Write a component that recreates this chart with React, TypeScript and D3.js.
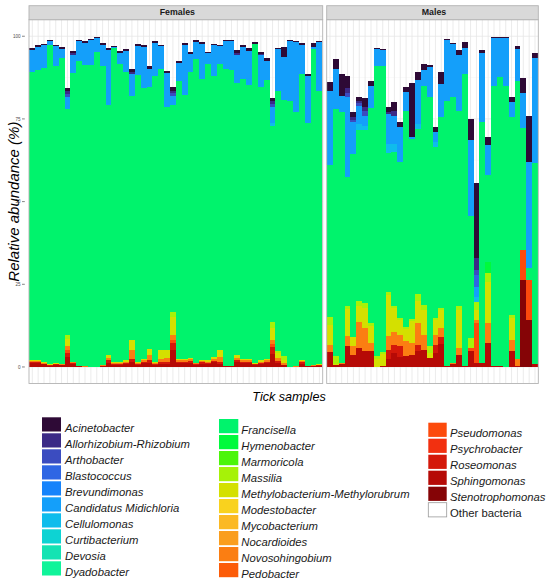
import React from "react";
import * as d3 from "d3";

const W = 550;
const H = 586;

// Legend order (top of stack first)
const taxa = [
  "Acinetobacter", "Allorhizobium-Rhizobium", "Arthobacter", "Blastococcus", "Brevundimonas",
  "Candidatus Midichloria", "Cellulomonas", "Curtibacterium", "Devosia", "Dyadobacter",
  "Francisella", "Hymenobacter", "Marmoricola", "Massilia", "Methylobacterium-Methylorubrum",
  "Modestobacter", "Mycobacterium", "Nocardioides", "Novosohingobium", "Pedobacter",
  "Pseudomonas", "Psychrobacter", "Roseomonas", "Sphingomonas", "Stenotrophomonas",
];
const taxaColors = [
  "#2e0a36", "#3b2a86", "#3b4cc0", "#2f66e4", "#1683fb",
  "#149ffa", "#0fbcec", "#0dd3d3", "#14e3b3", "#10f49a",
  "#00f36c", "#00fa3c", "#4cf50a", "#a6f208", "#d4e000",
  "#f9d21e", "#fbb923", "#fa9e1e", "#fb7e12", "#fc5c08",
  "#fc4a0c", "#f23010", "#d4180a", "#b60a06", "#850406",
];
const otherLabel = "Other bacteria";

// ---- Females (50 samples) ----
const fSphingomonas = [1.1,1.1,0.8,0.4,0.6,0.5,3.0,0.8,0.2,0.1, 0,0,0.3,1.2,0.6,0.7,0.8,1.4,0.7,1.2, 1.2,0.7,1.0,1.0,5.0,1.2,1.2,1.3,0.6,1.0, 0.9,1.4,1.0,0.2,0.2,1.6,1.2,1.2,0.6,0.9, 1.2,3.8,1.2,0.6,0,0.1,1.0,0.2,0.3,0.4];
const fRoseomonas = [0.4,0.4,0.2,0.1,0.2,0.1,1.2,0.3,0,0, 0,0,0,0.8,0.2,0.2,0.3,1.0,0.2,0.4, 1.0,0.2,0.5,0.5,2.2,0.4,0.4,0.4,0.2,0.4, 0.3,0.4,0.5,0,0,0.5,0.4,0.4,0.2,0.3, 0.4,2.2,0.5,0,0,0,0.4,0,0.1,0.1];
const fPseudomonas = [0,0,0,0,0,0,1.0,0,0,0, 0,0,0,0,0,0,0,0,0,0, 0,0,0,0,1.0,0,0,0,0,0, 0,0,0,0,0,0,0,0,0,0, 0,1.0,0,0,0,0,0,0,0,0];
const fNovosphingobium = [0.4,0.4,0.3,0.2,0.2,0.2,1.0,0.3,0.1,0.1, 0,0,0.2,0.7,0.3,0.3,0.4,2.8,0.3,0.5, 1.5,0.3,1.0,1.2,1.5,0.5,0.5,0.6,0.3,0.4, 0.4,0.6,1.5,0.2,0.2,0.7,0.5,0.5,0.2,0.4, 0.5,1.2,1.0,0.6,0,0.1,0.4,0.1,0.1,0.2];
const fMethylobacterium = [0.3,0.3,0.2,0.1,0.2,0.2,2.2,0.2,0,0, 0,0,0,1.0,0.5,0.4,0.5,3.0,0.3,0.4, 1.7,0.3,2.5,2.5,5.5,0.4,0.4,0.5,0.2,0.4, 0.4,0.6,2.0,0,0,0.7,0.4,0.4,0.2,0.4, 0.4,3.5,1.4,1.0,0,0,0.4,0,0.1,0.1];
const fMassilia = [0,0,0,0,0,0,1.3,0,0,0, 0,0,0,0,0,0,0,0,0,0, 0,0,0,0,1.5,0,0,0,0,0, 0,0,0,0,0,0,0,0,0,0, 0,2.0,0.6,1.0,0,0,0,0,0,0];
const fFrancisella = [87.1,87.5,89.0,96.7,89.8,92.3,68.3,87.4,92.2,91.0, 91.3,95.3,90.5,75.6,94.7,89.9,87.3,73.8,86.8,81.8, 79.3,86.5,85.0,73.5,62.6,84.0,79.8,86.5,91.7,85.0, 89.5,85.0,86.5,89.6,89.3,82.5,84.7,82.8,96.5,82.5, 84.2,59.3,78.6,77.5,80.5,76.8,86.5,73.4,95.4,82.7];
const fCellulomonas = [0,0,0,0,0,0,0,0,0,0, 0,0,0,0,0,0,0,0,0,0, 0,0,0,0,0,0,0,0,0,0, 0,0,0,0,0,0,0,0,0,0, 0,0.8,0,0,0,0,0,0,0,0];
const fMidichloria = [6.4,7.0,6.7,1.0,6.0,2.9,3.5,5.4,6.0,6.7, 7.6,4.1,6.4,16.4,0.3,3.5,6.2,6.7,8.8,12.3, 5.5,9.9,7.1,10.3,2.6,5.5,15.2,5.4,5.3,10.4, 3.4,9.4,5.6,8.7,9.0,8.4,9.5,10.2,0.1,9.7, 5.8,4.9,12.8,13.0,18.1,21.3,8.7,14.4,0.8,14.7];
const fArthobacter = [0,0,0,0,0,0,1.0,0,0,0, 0,0,0,0,0,0,0,0,0,0, 0,0,0,0,0.8,0,0,0,0,0, 0,0,0,0,0,0,0,0,0,0, 0,0.8,0,0,0,0,0,0,0,0];
const fAllorhizobium = [0,0,0,0,0,0,0.8,0.5,0,0, 0,0,0,0,0,0,0,0.5,0,0, 0,0,0,0,0.8,0,0,0,0,0, 0,0,0,0,0,0.5,0,0,0,0.4, 0,0.8,0,0,0,0,0,0,0,0];
const fAcinetobacter = [0.8,0.6,0.6,0.5,0.5,0.5,1.0,0.6,0.5,0.6, 0.4,0.3,0.6,0.6,0.4,0.5,0.5,0.8,0.6,0.7, 0.8,0.6,0.4,0.5,1.2,0.5,0.5,0.5,0.5,0.6, 0.4,0.4,0.4,0.3,0.3,0.8,0.5,0.8,0.5,0.7, 1.0,1.0,0.4,3.0,0.4,0.4,0.6,0.6,1.2,0.5];

// ---- Males (36 samples) ----
const mStenotrophomonas = [0,0,0,0,0,0,0,0,0,0, 0,0,0,0,0,0,0,0,0,0, 0,0,0,0,0,0,0,0,0,0, 0,0,0,26.3,14.2,0];
const mSphingomonas = [4.4,0.5,1.0,6.2,3.7,5.7,4.7,4.7,0,0.3, 2.5,4.2,3.0,3.2,3.7,4.7,5.2,2.7,4.2,7.0, 0.4,0.8,3.7,0.4,4.7,1.2,1.2,7.2,0.2,0.3, 0,4.7,0.4,0,0,1.0];
const mRoseomonas = [0,0,0,0,0,0,0,0,0,0, 2.5,2.5,3.2,0,0,2.0,0,0,2.5,2.2, 0,0,0,0,0,0,0,0,0,0, 0,0,0,0,0,0];
const mPseudomonas = [0,0,0,0,0,0,0,0,0,0, 0,0,0,0,0,0,0,0,0,0, 0,0,0,0,1.0,12.0,0,0,0,0, 0,0,0,9.0,12.1,0];
const mNovosphingobium = [2.3,0,0.2,3.2,2.5,8.0,7.0,2.5,0,0, 4.5,4.0,3.5,4.5,3.5,6.5,4.5,0,3.0,2.5, 0,0.4,2.0,0,0,1.0,0,6.0,0,0, 0,3.5,2.0,0,0,0];
const mMethylobacterium = [6.0,0.5,0,8.0,3.0,4.6,6.0,5.2,2.5,3.5, 12.3,7.1,4.5,3.8,6.7,6.8,7.6,1.5,4.5,5.6, 0,0,11.5,0,0,3.0,0,12.6,0,0, 0,6.5,0,0,0,0];
const mMassilia = [2.3,2.2,0,1.1,0,1.7,1.6,1.0,0.7,0.6, 1.0,0.7,0.5,0.5,0.5,2.0,1.5,2.2,0.5,0.5, 0,0,1.1,0,3.0,2.5,0,2.5,0,0, 0,1.0,0,0,0,0];
const mHymenobacter = [0,0,0,0,0,0,0,0,0,0, 0,0,0,0,0,0,0,0,0,0, 0,0,0,0,0,0,0,3.5,0,0, 0,0,0,0,0,0];
const mFrancisella = [46.0,74.8,75.8,38.8,55.3,51.5,52.2,64.9,87.8,86.6, 41.9,46.5,47.3,65.5,54.6,50.0,66.2,75.1,51.8,57.7, 80.1,80.3,59.2,88.1,36.9,0,72.8,26.2,84.8,87.4, 85.0,59.8,84.1,36.9,3.5,60.7];
const mCellulomonas = [0,0,0,0,0,2.0,1.5,0,0,0, 2.8,2.5,0,0,0,1.5,0,0,1.5,0, 0,0,0,0,0,1.6,0,0,0,0, 0,0,0,0,0,0];
const mMidichloria = [22.5,12.0,5.0,24.2,9.5,5.4,3.0,6.7,5.2,4.7, 9.0,8.5,10.5,5.5,0.5,13.2,4.7,9.2,3.0,10.0, 18.5,16.2,16.8,8.0,22.9,3.0,21.0,9.0,14.5,11.8, 14.5,4.5,9.5,10.5,32.2,31.8];
const mBlastococcus = [0,0,0,0,0,0,0,0,0,0, 0,0,0,0,0,0,0,0,0,0, 0,0,0,0,0,3.5,0,0,0,0, 0,0,0,0,0,0];
const mArthobacter = [0,0,0,1.4,0.7,0.8,1.5,0,0,0, 0,0,0,0,0,0,0,0,0,0, 0,0,0,0,0,1.5,0,0,0,0, 0,0,0,0,0,0];
const mAllorhizobium = [0,0,0,1.4,0.8,0.8,1.0,0,0,0, 0.5,1.5,0,0,0,0,0,0,0,0, 0,0,0,0,0,3.5,0,0,0,0, 0,0,0,0,0,0];
const mAcinetobacter = [2.8,3.0,6.7,3.7,1.5,1.2,2.7,1.5,0.3,0.5, 1.5,2.5,1.5,1.7,16.5,2.6,1.8,0.6,1.5,3.8, 0.3,0.3,1.4,1.7,6.5,22.9,0.7,2.5,0.2,0.2, 0.2,1.5,1.0,4.8,14.0,1.5];

const yTicks = [0, 25, 50, 75, 100];
const panelNames = ["Females", "Males"];

type Row = { [k: string]: number | string };

function buildRows(prefix: string, n: number, series: [string, number[]][]): Row[] {
  const rows: Row[] = [];
  for (let i = 0; i < n; i++) {
    const r: Row = { id: `${prefix}${i + 1}` };
    taxa.forEach((t) => (r[t] = 0));
    series.forEach(([t, arr]) => (r[t] = arr[i]));
    rows.push(r);
  }
  return rows;
}

const femaleRows = buildRows("F", fFrancisella.length, [
  ["Sphingomonas", fSphingomonas], ["Roseomonas", fRoseomonas], ["Pseudomonas", fPseudomonas],
  ["Novosohingobium", fNovosphingobium], ["Methylobacterium-Methylorubrum", fMethylobacterium],
  ["Massilia", fMassilia], ["Francisella", fFrancisella], ["Cellulomonas", fCellulomonas],
  ["Candidatus Midichloria", fMidichloria], ["Arthobacter", fArthobacter],
  ["Allorhizobium-Rhizobium", fAllorhizobium], ["Acinetobacter", fAcinetobacter],
]);
const maleRows = buildRows("M", mFrancisella.length, [
  ["Stenotrophomonas", mStenotrophomonas], ["Sphingomonas", mSphingomonas], ["Roseomonas", mRoseomonas],
  ["Pseudomonas", mPseudomonas], ["Novosohingobium", mNovosphingobium],
  ["Methylobacterium-Methylorubrum", mMethylobacterium], ["Massilia", mMassilia],
  ["Hymenobacter", mHymenobacter], ["Francisella", mFrancisella], ["Cellulomonas", mCellulomonas],
  ["Candidatus Midichloria", mMidichloria], ["Blastococcus", mBlastococcus],
  ["Arthobacter", mArthobacter], ["Allorhizobium-Rhizobium", mAllorhizobium],
  ["Acinetobacter", mAcinetobacter],
]);

const stackKeys = taxa.slice().reverse(); // bottom first
const colorOf = d3.scaleOrdinal<string, string>().domain(taxa).range(taxaColors);

const FONT = "'Liberation Sans', Arial, Helvetica, sans-serif";
const panelTop = 19.7;
const panelBottom = 383.5;
const stripTop = 5.7;
const y = d3.scaleLinear().domain([-5, 105]).range([panelBottom, panelTop]);

const panels = [
  { name: panelNames[0], rows: femaleRows, x0: 29, x1: 322.7 },
  { name: panelNames[1], rows: maleRows, x0: 326.7, x1: 538.3 },
];

function Panel({ name, rows, x0, x1 }: { name: string; rows: Row[]; x0: number; x1: number }) {
  const x = d3
    .scaleBand<string>()
    .domain(rows.map((r) => r.id as string))
    .range([x0, x1])
    .paddingInner(0)
    .paddingOuter(0.06);
  const series = d3.stack<Row>().keys(stackKeys).value((d, k) => d[k] as number)(rows);
  const minor = [12.5, 37.5, 62.5, 87.5];
  return (
    <g>
      <rect x={x0} y={panelTop} width={x1 - x0} height={panelBottom - panelTop} fill="#ffffff" />
      {minor.map((v) => (
        <line key={"mi" + v} x1={x0} x2={x1} y1={y(v)} y2={y(v)} stroke="#f0f0f0" strokeWidth={0.4} />
      ))}
      {yTicks.map((v) => (
        <line key={"ma" + v} x1={x0} x2={x1} y1={y(v)} y2={y(v)} stroke="#e6e6e6" strokeWidth={0.8} />
      ))}
      {rows.map((r) => {
        const cx = (x(r.id as string) as number) + x.bandwidth() / 2;
        return <line key={"v" + r.id} x1={cx} x2={cx} y1={panelTop} y2={panelBottom} stroke="#e6e6e6" strokeWidth={0.8} />;
      })}
      {series.map((s) => (
        <g key={s.key} fill={colorOf(s.key)} shapeRendering="crispEdges">
          {s.map((d) =>
            d[1] - d[0] > 0 ? (
              <rect
                key={d.data.id as string}
                x={x(d.data.id as string)}
                y={y(d[1])}
                width={x.bandwidth()}
                height={y(d[0]) - y(d[1])}
              />
            ) : null
          )}
        </g>
      ))}
      <rect x={x0} y={panelTop} width={x1 - x0} height={panelBottom - panelTop} fill="none" stroke="#b3b3b3" strokeWidth={0.9} />
      <rect x={x0} y={stripTop} width={x1 - x0} height={panelTop - stripTop} fill="#d9d9d9" stroke="#b3b3b3" strokeWidth={0.9} />
      <text x={(x0 + x1) / 2 + 1.5} y={15.4} textAnchor="middle" fontFamily={FONT} fontWeight="bold" fontSize={8.8} fill="#1a1a1a">
        {name}
      </text>
    </g>
  );
}

function Legend() {
  const cols = [
    { items: taxa.slice(0, 10), sx: 42, sw: 19, tx: 65, top: 417.3 },
    { items: taxa.slice(10, 20), sx: 219, sw: 19.3, tx: 241.3, top: 419 },
    { items: [...taxa.slice(20, 25), otherLabel], sx: 428.3, sw: 18.4, tx: 450, top: 422.7 },
  ];
  const pitch = 16;
  return (
    <g>
      {cols.map((c, ci) =>
        c.items.map((t, i) => {
          const top = c.top + i * pitch;
          const isOther = t === otherLabel;
          return (
            <g key={ci + "-" + t}>
              <rect
                x={c.sx}
                y={top}
                width={c.sw}
                height={14.2}
                fill={isOther ? "#ffffff" : colorOf(t)}
                stroke={isOther ? "#999999" : "none"}
                strokeWidth={0.8}
              />
              <text x={c.tx} y={top + 14.6} fontFamily={FONT} fontSize={11.3} fontStyle={isOther ? "normal" : "italic"} fill="#1a1a1a">
                {t}
              </text>
            </g>
          );
        })
      )}
    </g>
  );
}

export default function App() {
  return (
    <div style={{ position: "absolute", left: 0, top: 0, width: W, height: H, background: "#fff" }}>
      <svg width={W} height={H} viewBox={`0 0 ${W} ${H}`} style={{ display: "block" }}>
        <rect x={0} y={0} width={W} height={H} fill="#ffffff" />
        {panels.map((p) => (
          <Panel key={p.name} {...p} />
        ))}
        {yTicks.map((v) => (
          <g key={"t" + v}>
            <line x1={22} x2={24.8} y1={y(v)} y2={y(v)} stroke="#333333" strokeWidth={0.6} />
            <text x={20.6} y={y(v) + 1.6} textAnchor="end" fontFamily={FONT} fontSize={4.6} fill="#4d4d4d">
              {v}
            </text>
          </g>
        ))}
        <text
          transform={`translate(18.8, ${(panelTop + panelBottom) / 2}) rotate(-90)`}
          textAnchor="middle"
          fontFamily={FONT}
          fontSize={15}
          fontStyle="italic"
          fill="#000000"
        >
          Relative abundance (%)
        </text>
        <text x={289} y={401} textAnchor="middle" fontFamily={FONT} fontSize={12.6} fontStyle="italic" fill="#000000">
          Tick samples
        </text>
        <Legend />
      </svg>
    </div>
  );
}
